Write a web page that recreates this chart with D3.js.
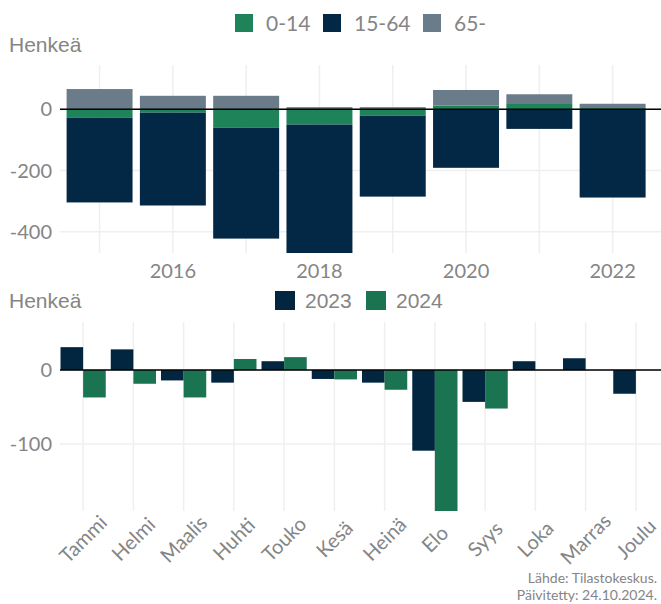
<!DOCTYPE html>
<html><head><meta charset="utf-8">
<script src="https://cdn.jsdelivr.net/npm/d3@7"></script>
<style>body{margin:0;background:#fff}svg{display:block}</style>
</head><body>
<script>
// ---- data ----
const years = [2015, 2016, 2017, 2018, 2019, 2020, 2021, 2022];
const age0_14 = [-27, -11, -60, -50, -21, 12, 20, 4];
const age15_64 = [-277, -303, -362, -420, -264, -191, -64, -288];
const age65 = [66, 44, 44, 7, 7, 51, 29, 14];
const ageGroups = ["0-14", "15-64", "65-"];
const yearTicks = [2016, 2018, 2020, 2022];
const topYTicks = [0, -200, -400];

const months = ["Tammi", "Helmi", "Maalis", "Huhti", "Touko", "Kesä", "Heinä", "Elo", "Syys", "Loka", "Marras", "Joulu"];
const v2023 = [31, 28, -14, -17, 12, -12, -17, -109, -43, 12, 16, -32];
const v2024 = [-37, -18.5, -37, 15, 17.5, -12.6, -26.6, -191, -52, null, null, null];
const seriesYears = ["2023", "2024"];
const bottomYTicks = [0, -100];

// ---- style ----
const W = 661, H = 604;
const ageColors = {"0-14": "#1e8359", "15-64": "#032846", "65-": "#6a7b89"};
const monthColors = {"2023": "#032640", "2024": "#1a7351"};
const textGray = "#858585";
const gridCol = "#efefef";
const gill = "Lato, 'Open Sans', sans-serif";
const arial = "'Liberation Sans', Arial, sans-serif";

const svg = d3.select("body").append("svg").attr("width", W).attr("height", H);
const defs = svg.append("defs");

// ================= TOP PANEL =================
const topX = d3.scaleLinear().domain([2014.46, 2022.66]).range([60, 661]);
const topY = d3.scaleLinear().domain([-469, 144.5]).range([253, 65]);
const step = topX(2016) - topX(2015);

defs.append("clipPath").attr("id", "clipTop").append("rect")
  .attr("x", 60).attr("y", 65).attr("width", 601).attr("height", 188);

const gTop = svg.append("g");
gTop.selectAll(".vg").data(years).join("line")
  .attr("x1", d => topX(d)).attr("x2", d => topX(d))
  .attr("y1", 65).attr("y2", 253).attr("stroke", gridCol).attr("stroke-width", 1.5);
gTop.selectAll(".hg").data(topYTicks).join("line")
  .attr("x1", 60).attr("x2", 661).attr("y1", d => topY(d)).attr("y2", d => topY(d))
  .attr("stroke", gridCol).attr("stroke-width", 1.5);

const topRows = years.map((y, i) => ({year: y, "0-14": age0_14[i], "15-64": age15_64[i], "65-": age65[i]}));
const stack = d3.stack().keys(ageGroups).offset(d3.stackOffsetDiverging);
const stacked = stack(topRows);
const barW = step * 0.9;
gTop.append("g").attr("clip-path", "url(#clipTop)")
  .selectAll("g").data(stacked).join("g").attr("fill", s => ageColors[s.key])
  .selectAll("rect").data(s => s).join("rect")
  .attr("x", d => topX(d.data.year) - barW / 2)
  .attr("width", barW)
  .attr("y", d => topY(Math.max(d[0], d[1])))
  .attr("height", d => Math.abs(topY(d[0]) - topY(d[1])));

gTop.append("line").attr("x1", 60).attr("x2", 661).attr("y1", topY(0)).attr("y2", topY(0))
  .attr("stroke", "#000").attr("stroke-width", 1.5);

gTop.selectAll(".xt").data(yearTicks).join("text")
  .attr("x", d => topX(d)).attr("y", 278).attr("text-anchor", "middle")
  .attr("font-family", gill).attr("font-size", 20).attr("fill", textGray).text(d => d);
gTop.selectAll(".yt").data(topYTicks).join("text")
  .attr("x", 52).attr("y", d => topY(d)).attr("dy", "0.36em").attr("text-anchor", "end")
  .attr("font-family", gill).attr("font-size", 20).attr("fill", textGray).text(d => d);
svg.append("text").attr("x", 9).attr("y", 52).attr("font-family", arial).attr("font-size", 21)
  .attr("fill", textGray).text("Henkeä");

const legTopX = [235, 323, 423];
const legTop = svg.append("g");
ageGroups.forEach((k, i) => {
  legTop.append("rect").attr("x", legTopX[i]).attr("y", 14).attr("width", 18).attr("height", 18).attr("fill", ageColors[k]);
  legTop.append("text").attr("x", legTopX[i] + 31).attr("y", 30.5).attr("font-family", gill)
    .attr("font-size", 21).attr("fill", textGray).text(k);
});

// ================= BOTTOM PANEL =================
const botX = d3.scaleBand().domain(months).range([58, 661]).padding(0);
const bStep = botX.step();
const botY = d3.scaleLinear().domain([-190.5, 65]).range([511, 322]);

defs.append("clipPath").attr("id", "clipBot").append("rect")
  .attr("x", 58).attr("y", 322).attr("width", 603).attr("height", 189);

const gBot = svg.append("g");
gBot.selectAll(".vg").data(months).join("line")
  .attr("x1", d => botX(d) + bStep / 2).attr("x2", d => botX(d) + bStep / 2)
  .attr("y1", 322).attr("y2", 511).attr("stroke", gridCol).attr("stroke-width", 1.5);
gBot.selectAll(".hg").data(bottomYTicks).join("line")
  .attr("x1", 60).attr("x2", 661).attr("y1", d => botY(d)).attr("y2", d => botY(d))
  .attr("stroke", gridCol).attr("stroke-width", 1.5);

const sub = d3.scaleBand().domain(seriesYears).range([0, bStep * 0.9]);
const botRows = [];
months.forEach((m, i) => {
  botRows.push({m, s: "2023", v: v2023[i]});
  botRows.push({m, s: "2024", v: v2024[i]});
});
gBot.append("g").attr("clip-path", "url(#clipBot)")
  .selectAll("rect").data(botRows.filter(d => d.v !== null)).join("rect")
  .attr("x", d => botX(d.m) + bStep * 0.05 + sub(d.s))
  .attr("width", sub.bandwidth())
  .attr("y", d => botY(Math.max(0, d.v)))
  .attr("height", d => Math.abs(botY(d.v) - botY(0)))
  .attr("fill", d => monthColors[d.s]);

gBot.append("line").attr("x1", 60).attr("x2", 661).attr("y1", botY(0)).attr("y2", botY(0))
  .attr("stroke", "#000").attr("stroke-width", 1.5);

gBot.selectAll(".yt").data(bottomYTicks).join("text")
  .attr("x", 52).attr("y", d => botY(d)).attr("dy", "0.36em").attr("text-anchor", "end")
  .attr("font-family", gill).attr("font-size", 20).attr("fill", textGray).text(d => d);

gBot.selectAll(".mt").data(months).join("text")
  .attr("transform", d => `translate(${botX(d) + bStep / 2},539) rotate(-45)`)
  .attr("text-anchor", "middle").attr("dy", "0.36em")
  .attr("font-family", gill).attr("font-size", 20).attr("fill", textGray).text(d => d);

svg.append("text").attr("x", 9).attr("y", 307.5).attr("font-family", arial).attr("font-size", 21)
  .attr("fill", textGray).text("Henkeä");

const legBotX = [275, 366];
seriesYears.forEach((k, i) => {
  svg.append("rect").attr("x", legBotX[i]).attr("y", 291).attr("width", 20).attr("height", 19).attr("fill", monthColors[k]);
  svg.append("text").attr("x", legBotX[i] + 30).attr("y", 308.3).attr("font-family", arial)
    .attr("font-size", 21).attr("fill", textGray).text(k);
});

const cap = svg.append("g").attr("font-family", gill).attr("font-size", 14).attr("fill", textGray).attr("text-anchor", "end");
cap.append("text").attr("x", 657).attr("y", 583).text("Lähde: Tilastokeskus.");
cap.append("text").attr("x", 657).attr("y", 600).text("Päivitetty: 24.10.2024.");
</script>
</body></html>
